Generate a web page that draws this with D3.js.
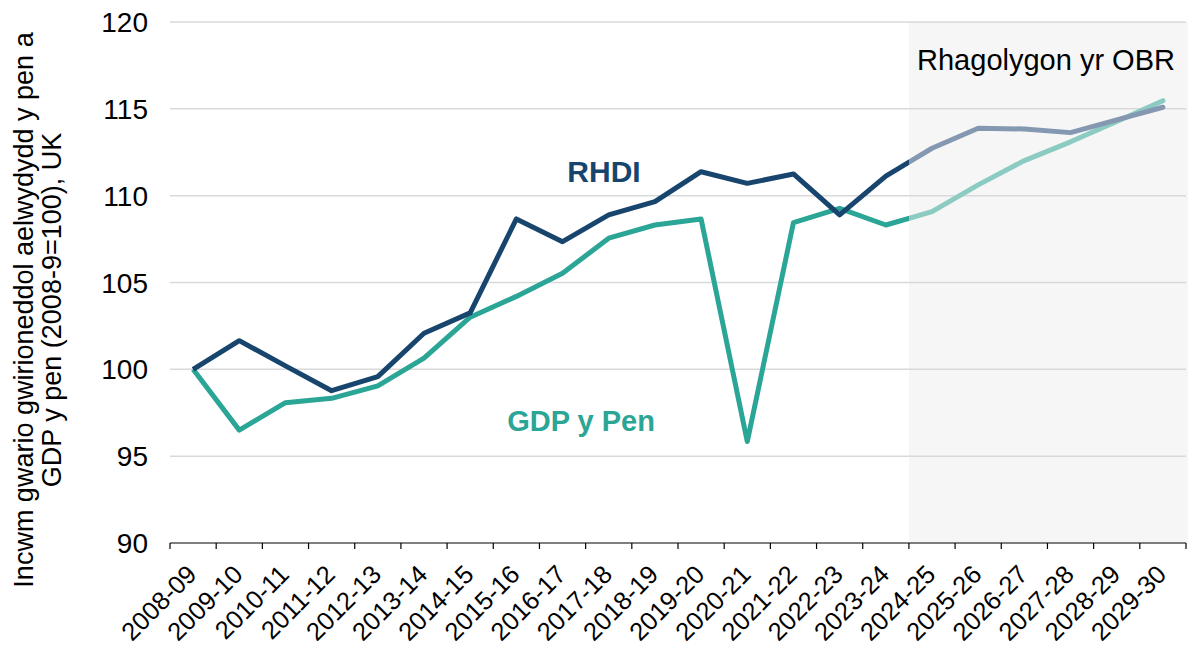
<!DOCTYPE html>
<html>
<head>
<meta charset="utf-8">
<script src="https://cdn.jsdelivr.net/npm/d3@7"></script>
<style>
  body { margin: 0; background: #fff; }
  text { font-family: "Liberation Sans", Arial, sans-serif; }
</style>
</head>
<body>
<div id="chart"></div>
<script>
// years on the x axis
const years = ['2008-09', '2009-10', '2010-11', '2011-12', '2012-13', '2013-14', '2014-15',
    '2015-16', '2016-17', '2017-18', '2018-19', '2019-20', '2020-21', '2021-22', '2022-23',
    '2023-24', '2024-25', '2025-26', '2026-27', '2027-28', '2028-29', '2029-30'];

// real household disposable income per head
const rhdi = [100, 101.65, 100.2, 98.77, 99.58, 102.08, 103.25, 108.66, 107.35, 108.89, 109.66,
    111.38, 110.71, 111.25, 108.89, 111.13, 112.73, 113.88, 113.84, 113.63, 114.36, 115.09];

// GDP per head
const gdp = [100, 96.5, 98.08, 98.33, 99.05, 100.64, 103.0, 104.2, 105.53, 107.55, 108.31,
    108.66, 95.84, 108.45, 109.27, 108.31, 109.08, 110.62, 112.02, 113.1, 114.27, 115.47];

const yTicks = [90, 95, 100, 105, 110, 115, 120];
const forecastStart = '2024-25';

const width = 1188, height = 646;
const margin = {top: 22, right: 2, bottom: 103, left: 170};
const innerW = width - margin.left - margin.right;
const innerH = height - margin.top - margin.bottom;

const svg = d3.select('#chart').append('svg')
    .attr('width', width)
    .attr('height', height);

const chart = svg.append('g')
    .attr('transform', `translate(${margin.left},${margin.top})`);

const x = d3.scaleBand().domain(years).range([0, innerW]).padding(0);
const y = d3.scaleLinear().domain([90, 120]).range([innerH, 0]);
const cx = d => x(d) + x.bandwidth() / 2;

const splitX = x(forecastStart);

// forecast shading
chart.append('rect')
    .attr('x', splitX)
    .attr('y', 0)
    .attr('width', innerW - splitX + margin.right)
    .attr('height', innerH)
    .attr('fill', '#f6f6f6');

// gridlines
chart.selectAll('.grid')
    .data(yTicks.filter(t => t > 90))
    .enter()
    .append('line')
    .attr('x1', 0)
    .attr('x2', innerW)
    .attr('y1', d => y(d))
    .attr('y2', d => y(d))
    .attr('stroke', '#d9d9d9')
    .attr('stroke-width', 1.5);

// y axis labels
chart.selectAll('.ylab')
    .data(yTicks)
    .enter()
    .append('text')
    .attr('x', -22)
    .attr('y', d => y(d))
    .attr('dy', '0.36em')
    .attr('text-anchor', 'end')
    .style('font-size', '28px')
    .attr('fill', '#000')
    .text(d => d);

// x axis
const xAxis = chart.append('g')
    .attr('transform', `translate(0,${innerH})`);

xAxis.append('line')
    .attr('x1', 0).attr('x2', innerW)
    .attr('stroke', '#000').attr('stroke-width', 1.2);

xAxis.selectAll('.tick')
    .data(years.concat(['end']))
    .enter()
    .append('line')
    .attr('x1', (d, i) => i * x.step())
    .attr('x2', (d, i) => i * x.step())
    .attr('y1', 0).attr('y2', 6)
    .attr('stroke', '#000').attr('stroke-width', 1.2);

xAxis.selectAll('.xlab')
    .data(years)
    .enter()
    .append('text')
    .attr('text-anchor', 'end')
    .attr('transform', d => `translate(${cx(d) + 5},${33}) rotate(-45)`)
    .style('font-size', '25.5px')
    .attr('fill', '#000')
    .text(d => d);

// y axis title
const yTitle = svg.append('text')
    .attr('transform', `translate(33,310) rotate(-90)`)
    .attr('text-anchor', 'middle')
    .style('font-size', '27px')
    .attr('fill', '#000');
yTitle.append('tspan').attr('x', 0).attr('dy', 0).text('Incwm gwario gwirioneddol aelwydydd y pen a');
yTitle.append('tspan').attr('x', 0).attr('dy', 28).text('GDP y pen (2008-9=100), UK');

// clip paths for outturn / forecast split
const defs = svg.append('defs');
defs.append('clipPath').attr('id', 'clip-past')
    .append('rect').attr('x', -10).attr('y', -20).attr('width', splitX + 10).attr('height', innerH + 40);
defs.append('clipPath').attr('id', 'clip-fore')
    .append('rect').attr('x', splitX).attr('y', -20).attr('width', innerW - splitX + 10).attr('height', innerH + 40);

const line = d3.line()
    .x((d, i) => cx(years[i]))
    .y(d => y(d));

const series = [
    {values: gdp, color: '#2aa596', light: '#8ccbc2'},
    {values: rhdi, color: '#17456e', light: '#8499b1'}
];

series.forEach(s => {
    chart.append('path')
        .attr('d', line(s.values))
        .attr('fill', 'none')
        .attr('stroke', s.color)
        .attr('stroke-width', 5)
        .attr('stroke-linejoin', 'round')
        .attr('clip-path', 'url(#clip-past)');
    chart.append('path')
        .attr('d', line(s.values))
        .attr('fill', 'none')
        .attr('stroke', s.light)
        .attr('stroke-width', 5)
        .attr('stroke-linejoin', 'round')
        .attr('stroke-linecap', 'round')
        .attr('clip-path', 'url(#clip-fore)');
});

// labels
svg.append('text')
    .attr('x', 604).attr('y', 182)
    .attr('text-anchor', 'middle')
    .style('font-size', '30px').style('font-weight', 'bold')
    .attr('fill', '#17456e')
    .text('RHDI');

svg.append('text')
    .attr('x', 581).attr('y', 431)
    .attr('text-anchor', 'middle')
    .style('font-size', '29px').style('font-weight', 'bold')
    .attr('fill', '#2aa596')
    .text('GDP y Pen');

svg.append('text')
    .attr('x', 1046).attr('y', 70)
    .attr('text-anchor', 'middle')
    .style('font-size', '29px')
    .attr('fill', '#000')
    .text('Rhagolygon yr OBR');
</script>
</body>
</html>
